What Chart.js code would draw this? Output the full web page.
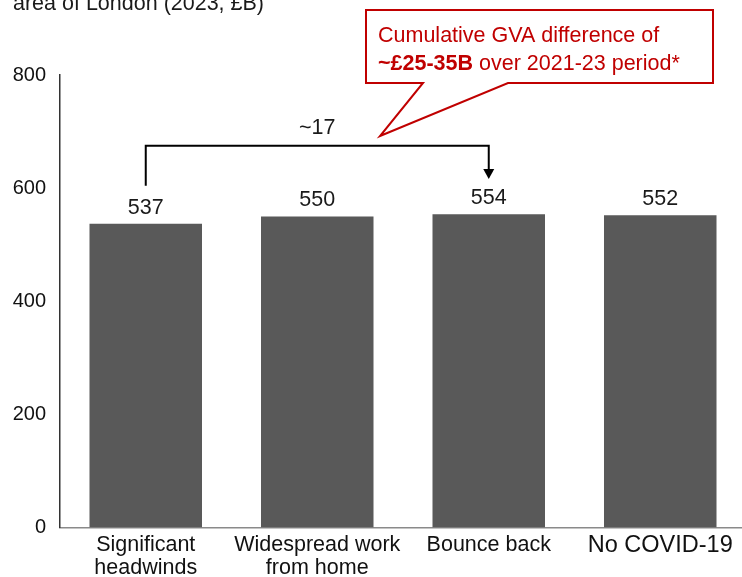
<!DOCTYPE html>
<html>
<head>
<meta charset="utf-8">
<script src="https://cdn.jsdelivr.net/npm/chart.js@4"></script>
<style>
  html, body { margin: 0; padding: 0; overflow: hidden; background: #fff; }
  #wrap { width: 746px; height: 577px; position: relative; }
</style>
</head>
<body>
<div id="wrap"><canvas id="gvaChart"></canvas></div>
<script>
// === data ===
const CATEGORIES = [
  ["Significant", "headwinds"],
  ["Widespread work", "from home"],
  "Bounce back",
  "No COVID-19"
];
const GVA_VALUES = [537, 550, 554, 552];
const Y_TICKS = [0, 200, 400, 600, 800];

const TITLE_TAIL = "area of London (2023, £B)";
const GAP_LABEL = "~17";
const CALLOUT_LINE1 = "Cumulative GVA difference of";
const CALLOUT_BOLD = "~£25-35B";
const CALLOUT_REST = " over 2021-23 period*";

const FONT = "'Liberation Sans', Arial, sans-serif";
const RED = "#c00000";

// =========================
// overlay: labels, bracket, callout
// =========================
const overlayPlugin = {
  id: "overlay",
  afterDraw(chart) {
    const ctx = chart.ctx;
    const bars = chart.getDatasetMeta(0).data;
    const y = chart.scales.y;

    ctx.save();

    // clipped title line at the very top
    ctx.fillStyle = "#1a1a1a";
    ctx.font = `21.5px ${FONT}`;
    ctx.textAlign = "left";
    ctx.textBaseline = "alphabetic";
    ctx.fillText(TITLE_TAIL, 13, 10);

    // value labels above bars
    ctx.textAlign = "center";
    ctx.textBaseline = "middle";
    ctx.font = `21.5px ${FONT}`;
    bars.forEach((b, i) => {
      ctx.fillText(String(GVA_VALUES[i]), b.x, b.y - 16);
    });

    // bracket from bar 1 to bar 3
    const x1 = bars[0].x, x2 = bars[2].x;
    const yTop = y.getPixelForValue(675);
    const yLeft = y.getPixelForValue(604);
    const yTip = y.getPixelForValue(616);
    ctx.strokeStyle = "#000";
    ctx.lineWidth = 2;
    ctx.beginPath();
    ctx.moveTo(x1, yLeft);
    ctx.lineTo(x1, yTop);
    ctx.lineTo(x2, yTop);
    ctx.lineTo(x2, yTip - 9);
    ctx.stroke();
    ctx.fillStyle = "#000";
    ctx.beginPath();
    ctx.moveTo(x2 - 5.5, yTip - 10);
    ctx.lineTo(x2 + 5.5, yTip - 10);
    ctx.lineTo(x2, yTip);
    ctx.closePath();
    ctx.fill();

    ctx.fillStyle = "#1a1a1a";
    ctx.fillText(GAP_LABEL, (x1 + x2) / 2, y.getPixelForValue(706));

    // callout box with pointer
    ctx.beginPath();
    ctx.moveTo(366, 10);
    ctx.lineTo(713, 10);
    ctx.lineTo(713, 83);
    ctx.lineTo(508, 83);
    ctx.lineTo(380, 136);
    ctx.lineTo(423, 83);
    ctx.lineTo(366, 83);
    ctx.closePath();
    ctx.fillStyle = "#fff";
    ctx.fill();
    ctx.strokeStyle = RED;
    ctx.lineWidth = 2;
    ctx.stroke();

    ctx.fillStyle = RED;
    ctx.textAlign = "left";
    ctx.textBaseline = "alphabetic";
    ctx.font = `21.5px ${FONT}`;
    ctx.fillText(CALLOUT_LINE1, 378, 42);
    ctx.font = `bold 21.5px ${FONT}`;
    ctx.fillText(CALLOUT_BOLD, 378, 69.5);
    const w = ctx.measureText(CALLOUT_BOLD).width;
    ctx.font = `21.5px ${FONT}`;
    ctx.fillText(CALLOUT_REST, 378 + w, 69.5);

    ctx.restore();
  }
};

// =========================
// chart
// =========================
new Chart(document.getElementById("gvaChart"), {
  type: "bar",
  data: {
    labels: CATEGORIES,
    datasets: [{
      data: GVA_VALUES,
      backgroundColor: "#595959",
      borderWidth: 0,
      barPercentage: 0.656,
      categoryPercentage: 1
    }]
  },
  options: {
    responsive: true,
    maintainAspectRatio: false,
    animation: false,
    layout: { padding: { top: 75, left: 0, right: 0, bottom: 0 } },
    plugins: { legend: { display: false }, tooltip: { enabled: false } },
    scales: {
      x: {
        grid: { display: false, drawTicks: false },
        border: { display: true, color: "#8a8a8a", width: 1.5 },
        ticks: {
          color: "#111",
          padding: 6,
          maxRotation: 0,
          autoSkip: false,
          font: (c) => ({
            family: FONT,
            size: c.index === 3 ? 23.5 : 21.5,
            lineHeight: "23.3px"
          })
        },
        afterFit: (s) => { s.height = 49.5; }
      },
      y: {
        min: 0,
        max: 800,
        afterBuildTicks: (s) => { s.ticks = Y_TICKS.map((v) => ({ value: v })); },
        grid: { display: false, drawTicks: false },
        border: { display: true, color: "#333", width: 1.5 },
        ticks: {
          color: "#111",
          padding: 14,
          font: { family: FONT, size: 20 }
        },
        afterFit: (s) => { s.width = 60; }
      }
    }
  },
  plugins: [overlayPlugin]
});
</script>
</body>
</html>
